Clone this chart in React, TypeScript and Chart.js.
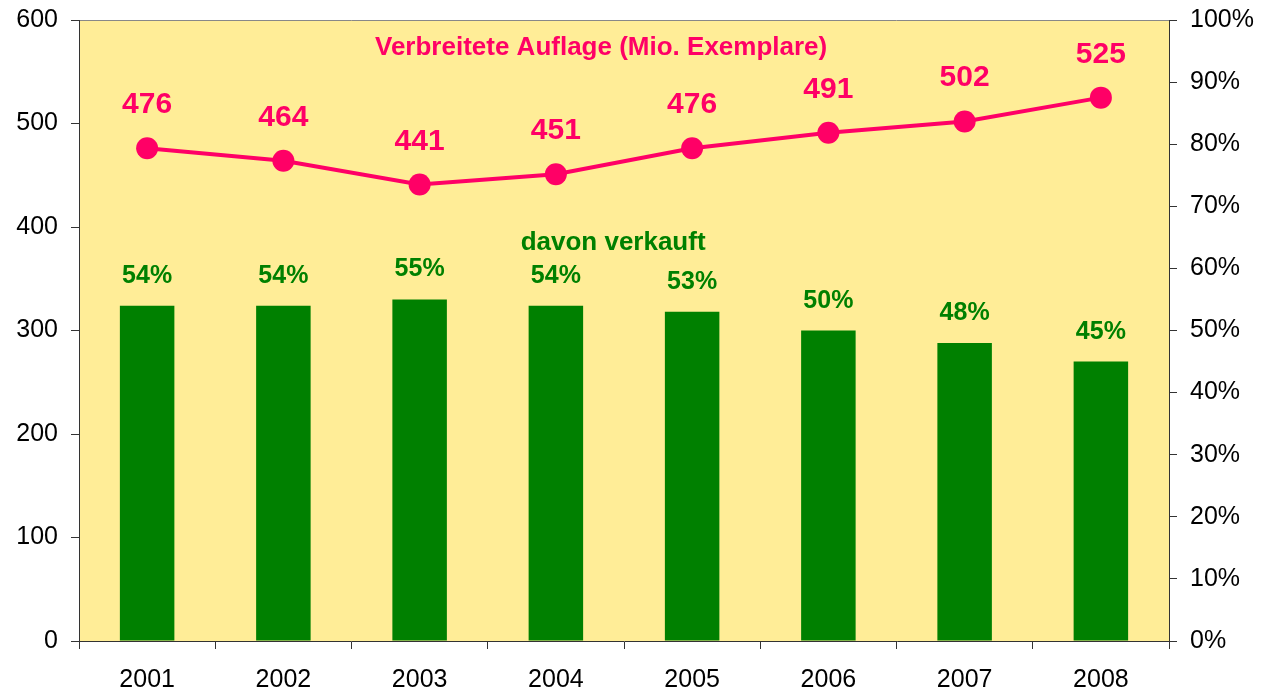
import React, { useEffect, useRef } from "react";
import { Chart, registerables } from "chart.js";

Chart.register(...registerables);

const years = ["2001", "2002", "2003", "2004", "2005", "2006", "2007", "2008"];
const circulation = [476, 464, 441, 451, 476, 491, 502, 525];
const soldShare = [54, 54, 55, 54, 53, 50, 48, 45];
const lineTitle = "Verbreitete Auflage (Mio. Exemplare)";
const barTitle = "davon verkauft";

const FONT = "'Liberation Sans', Arial, sans-serif";
const PINK = "#FF0066";
const GREEN = "#008000";
const BG = "#FFED97";

const bgPlugin = {
  id: "bgPlugin",
  beforeDraw(chart: any) {
    const { ctx, chartArea: a } = chart;
    ctx.save();
    ctx.fillStyle = BG;
    ctx.fillRect(a.left, a.top, a.right - a.left, a.bottom - a.top);
    ctx.strokeStyle = "#888888";
    ctx.lineWidth = 1;
    ctx.beginPath();
    ctx.moveTo(a.left, a.top + 0.5);
    ctx.lineTo(a.right, a.top + 0.5);
    ctx.stroke();
    ctx.restore();
  },
};

const labelPlugin = {
  id: "labelPlugin",
  afterDatasetsDraw(chart: any) {
    const { ctx, chartArea: a } = chart;
    ctx.save();
    ctx.textAlign = "center";
    ctx.textBaseline = "alphabetic";
    const barMeta = chart.getDatasetMeta(0);
    ctx.fillStyle = GREEN;
    ctx.font = `bold 25px ${FONT}`;
    barMeta.data.forEach((el: any, i: number) => {
      ctx.fillText(`${soldShare[i]}%`, el.x, el.y - 23);
    });
    const lineMeta = chart.getDatasetMeta(1);
    ctx.fillStyle = PINK;
    ctx.font = `bold 30px ${FONT}`;
    lineMeta.data.forEach((el: any, i: number) => {
      ctx.fillText(`${circulation[i]}`, el.x, el.y - 35);
    });
    const w = a.right - a.left;
    ctx.font = `bold 26px ${FONT}`;
    ctx.fillStyle = PINK;
    ctx.fillText(lineTitle, a.left + w * 0.479, 55);
    ctx.fillStyle = GREEN;
    ctx.fillText(barTitle, a.left + w * 0.49, 250);
    ctx.restore();
  },
};

export default function App() {
  const ref = useRef<HTMLCanvasElement>(null);
  useEffect(() => {
    if (!ref.current) return;
    const chart = new Chart(ref.current, {
      type: "bar",
      data: {
        labels: years,
        datasets: [
          {
            type: "bar",
            label: barTitle,
            data: soldShare,
            yAxisID: "y1",
            backgroundColor: GREEN,
            borderWidth: 0,
            categoryPercentage: 1,
            barPercentage: 0.4,
            order: 2,
          },
          {
            type: "line",
            label: lineTitle,
            data: circulation,
            yAxisID: "y",
            borderColor: PINK,
            backgroundColor: PINK,
            borderWidth: 4,
            pointRadius: 11,
            pointBackgroundColor: PINK,
            pointBorderWidth: 0,
            tension: 0,
            order: 1,
          },
        ],
      } as any,
      options: {
        animation: false,
        responsive: false,
        maintainAspectRatio: false,
        layout: { padding: { top: 20, left: 0, right: 0, bottom: 0 } },
        plugins: { legend: { display: false }, tooltip: { enabled: false } },
        scales: {
          x: {
            offset: true,
            grid: {
              offset: true,
              drawOnChartArea: false,
              tickLength: 8,
              color: "#333333",
            },
            border: { display: true, color: "#333333", width: 1 },
            ticks: { color: "#000", font: { family: FONT, size: 25 }, padding: 16 },
            afterFit: (s: any) => {
              s.height = 50;
              s.paddingLeft = 0;
              s.paddingRight = 0;
            },
          },
          y: {
            position: "left",
            min: 0,
            max: 600,
            ticks: { stepSize: 100, color: "#000", font: { family: FONT, size: 25 }, padding: 13 },
            grid: { drawOnChartArea: false, tickLength: 8, color: "#333333" },
            border: { display: true, color: "#333333", width: 1 },
            afterFit: (s: any) => {
              s.width = 79;
              s.paddingTop = 0;
              s.paddingBottom = 0;
            },
          },
          y1: {
            position: "right",
            min: 0,
            max: 100,
            ticks: {
              stepSize: 10,
              color: "#000",
              font: { family: FONT, size: 25 },
              padding: 13,
              callback: (v: any) => `${v}%`,
            },
            grid: { drawOnChartArea: false, tickLength: 8, color: "#333333" },
            border: { display: true, color: "#333333", width: 1 },
            afterFit: (s: any) => {
              s.width = 92;
              s.paddingTop = 0;
              s.paddingBottom = 0;
            },
          },
        },
      } as any,
      plugins: [bgPlugin, labelPlugin],
    });
    return () => chart.destroy();
  }, []);
  return (
    <div style={{ position: "fixed", left: 0, top: 0, width: 1261, height: 691, background: "#fff" }}>
      <canvas ref={ref} width={1261} height={691} style={{ width: 1261, height: 691 }} />
    </div>
  );
}
